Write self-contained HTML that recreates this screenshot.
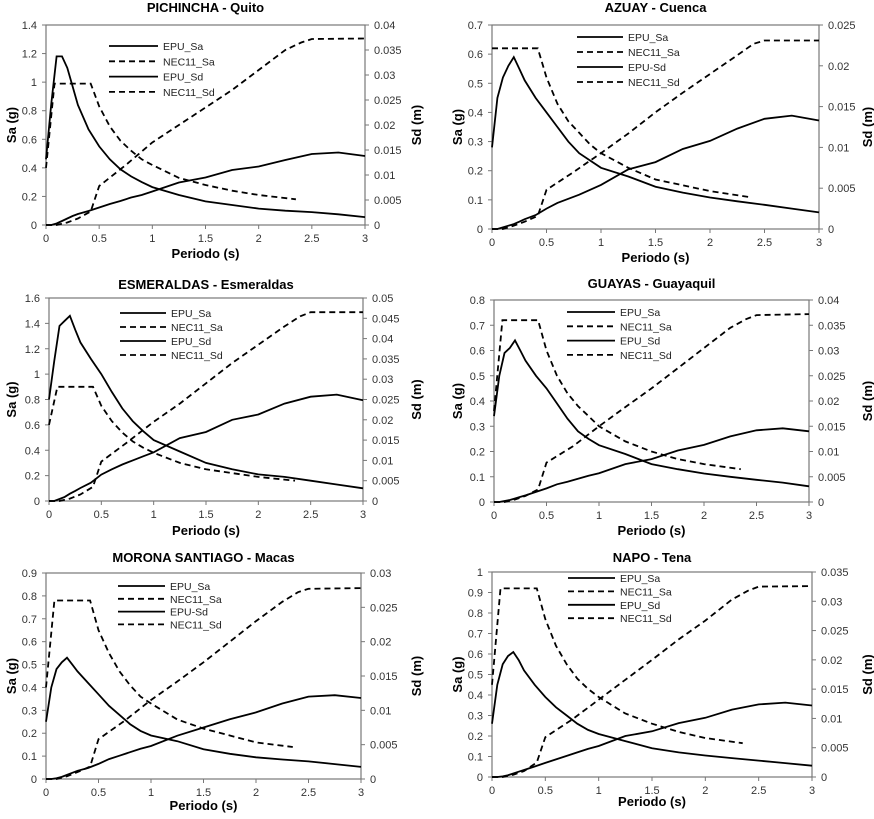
<!DOCTYPE html>
<html><head><meta charset="utf-8"><style>
html,body{margin:0;padding:0;background:#fff;}
svg{display:block;font-family:"Liberation Sans",sans-serif;}
</style></head><body>
<svg id="fig" width="874" height="819" viewBox="0 0 874 819" xmlns="http://www.w3.org/2000/svg"></svg>
<script>
const T_EPU=[0,0.05,0.1,0.15,0.2,0.25,0.3,0.4,0.5,0.6,0.7,0.8,0.9,1,1.25,1.5,1.75,2,2.25,2.5,2.75,3];
const T_NECSA=[0,0.08,0.42,0.5,0.6,0.7,0.8,0.9,1,1.25,1.5,1.75,2,2.35];
const T_NECSD=[0,0.1,0.2,0.3,0.42,0.5,0.75,1,1.25,1.5,1.75,2,2.25,2.4,2.5,3];
const titles=["PICHINCHA - Quito","AZUAY - Cuenca","ESMERALDAS - Esmeraldas","GUAYAS - Guayaquil","MORONA SANTIAGO - Macas","NAPO - Tena"];
const saMax=[1.4,0.7,1.6,0.8,0.9,1.0];
const saStep=[0.2,0.1,0.2,0.1,0.1,0.1];
const sdMax=[0.04,0.025,0.05,0.04,0.03,0.035];
const xTicks=[0,0.5,1,1.5,2,2.5,3];
const epuSa=[
[0.46,0.85,1.18,1.18,1.1,0.97,0.84,0.67,0.55,0.46,0.39,0.34,0.3,0.265,0.21,0.165,0.14,0.115,0.1,0.09,0.075,0.055],
[0.28,0.45,0.52,0.56,0.59,0.55,0.51,0.45,0.4,0.35,0.3,0.26,0.235,0.21,0.18,0.145,0.125,0.108,0.095,0.083,0.07,0.057],
[0.8,1.1,1.38,1.42,1.46,1.35,1.25,1.12,1.0,0.86,0.73,0.63,0.55,0.48,0.39,0.3,0.25,0.21,0.19,0.16,0.13,0.1],
[0.34,0.5,0.59,0.61,0.64,0.6,0.56,0.5,0.45,0.39,0.33,0.28,0.25,0.225,0.19,0.15,0.13,0.113,0.1,0.088,0.077,0.062],
[0.25,0.4,0.48,0.51,0.53,0.5,0.47,0.42,0.37,0.32,0.28,0.24,0.21,0.19,0.165,0.13,0.11,0.095,0.085,0.077,0.065,0.053],
[0.26,0.45,0.55,0.59,0.61,0.57,0.52,0.45,0.39,0.34,0.3,0.26,0.23,0.21,0.175,0.14,0.12,0.105,0.092,0.08,0.068,0.055]];
const epuSd=[
[0,0,0.0003,0.0008,0.0013,0.0018,0.0022,0.0028,0.0035,0.0042,0.0048,0.0055,0.006,0.0067,0.0085,0.0095,0.011,0.0117,0.013,0.0142,0.0145,0.0138],
[0,0,0.0002,0.0004,0.0006,0.0009,0.0012,0.0017,0.0025,0.0032,0.0037,0.0042,0.0048,0.0054,0.0073,0.0082,0.0098,0.0108,0.0123,0.0135,0.0139,0.0133],
[0,0,0.0005,0.001,0.0018,0.0025,0.0032,0.0045,0.0065,0.0078,0.009,0.01,0.011,0.012,0.0155,0.017,0.02,0.0213,0.024,0.0257,0.0262,0.0248],
[0,0,0.0002,0.0004,0.0007,0.001,0.0013,0.002,0.0027,0.0035,0.004,0.0046,0.0052,0.0057,0.0075,0.0085,0.0102,0.0113,0.013,0.0142,0.0146,0.014],
[0,0,0.0001,0.0003,0.0006,0.0009,0.0012,0.0016,0.0022,0.0029,0.0034,0.0039,0.0044,0.0048,0.0063,0.0075,0.0087,0.0097,0.011,0.012,0.0122,0.0118],
[0,0,0.0001,0.0003,0.0006,0.0009,0.0012,0.0018,0.0024,0.003,0.0036,0.0042,0.0048,0.0053,0.007,0.0078,0.0092,0.0101,0.0115,0.0124,0.0127,0.0122]];
const necSa=[
[0.4,0.99,0.99,0.83,0.69,0.59,0.52,0.46,0.42,0.33,0.28,0.24,0.21,0.18],
[0.62,0.62,0.62,0.52,0.43,0.37,0.33,0.29,0.26,0.21,0.17,0.15,0.13,0.11],
[0.6,0.9,0.9,0.75,0.63,0.54,0.47,0.42,0.38,0.3,0.25,0.22,0.19,0.16],
[0.36,0.72,0.72,0.6,0.5,0.43,0.38,0.34,0.3,0.24,0.2,0.17,0.15,0.13],
[0.4,0.78,0.78,0.65,0.55,0.47,0.41,0.36,0.33,0.26,0.22,0.19,0.16,0.14],
[0.45,0.92,0.92,0.77,0.64,0.55,0.48,0.43,0.39,0.31,0.26,0.22,0.19,0.165]];
const necSd=[
[0,0,0.0005,0.0013,0.0027,0.0078,0.012,0.0165,0.02,0.0235,0.027,0.031,0.035,0.0365,0.0372,0.0373],
[0,0,0.0004,0.0009,0.0016,0.0048,0.007,0.0093,0.0117,0.0143,0.0167,0.019,0.0213,0.0227,0.0231,0.0231],
[0,0,0.0006,0.0016,0.0035,0.0097,0.0145,0.0195,0.024,0.029,0.034,0.0385,0.043,0.0455,0.0465,0.0465],
[0,0,0.0005,0.0012,0.0025,0.0078,0.011,0.015,0.0188,0.0225,0.0265,0.0305,0.0345,0.0362,0.037,0.0372],
[0,0,0.0004,0.001,0.0018,0.0058,0.0085,0.0115,0.0142,0.017,0.02,0.023,0.0258,0.0272,0.0277,0.0278],
[0,0,0.0004,0.001,0.0025,0.0068,0.0098,0.0132,0.0166,0.02,0.0235,0.0267,0.0303,0.0318,0.0325,0.0326]];
const legendLabels=[
["EPU_Sa","NEC11_Sa","EPU_Sd","NEC11_Sd"],["EPU_Sa","NEC11_Sa","EPU-Sd","NEC11_Sd"],
["EPU_Sa","NEC11_Sa","EPU_Sd","NEC11_Sd"],["EPU_Sa","NEC11_Sa","EPU_Sd","NEC11_Sd"],
["EPU_Sa","NEC11_Sa","EPU-Sd","NEC11_Sd"],["EPU_Sa","NEC11_Sa","EPU_Sd","NEC11_Sd"]];
const L=[
{x0:46,x1:365,yt:25,yb:225,tY:12,xl:258,syl:12,sdl:417,lg:[109,158,46,15.3]},
{x0:492,x1:819,yt:25,yb:229,tY:12,xl:262,syl:458,sdl:868,lg:[577,623,37,15]},
{x0:49,x1:363,yt:298,yb:501,tY:289,xl:535,syl:12,sdl:417,lg:[120,166,313,14]},
{x0:494,x1:809,yt:300,yb:502,tY:288,xl:535,syl:458,sdl:868,lg:[567,615,312,14.3]},
{x0:46,x1:361,yt:573,yb:779,tY:562,xl:810,syl:12,sdl:417,lg:[118,165,586,12.8]},
{x0:492,x1:812,yt:572,yb:777,tY:562,xl:806,syl:458,sdl:868,lg:[568,615,578,13.4]}];
const NS="http://www.w3.org/2000/svg";
const svg=document.getElementById('fig');
function mk(tag,attrs,parent,txt){const e=document.createElementNS(NS,tag);for(const k in attrs)e.setAttribute(k,attrs[k]);if(txt!==undefined)e.textContent=txt;(parent||svg).appendChild(e);return e;}
function fmt(v){return String(Math.round(v*10000)/10000);}
for(let p=0;p<6;p++){
 const c=L[p];
 const g=mk('g',{});
 
 
 const sx=t=>c.x0+(t/3)*(c.x1-c.x0);
 const sy=v=>c.yb-(v/saMax[p])*(c.yb-c.yt);
 const sy2=v=>c.yb-(v/sdMax[p])*(c.yb-c.yt);
 const tt=mk('text',{x:(c.x0+c.x1)/2,y:c.tY,'text-anchor':'middle','font-size':13,'font-weight':'bold'},g,titles[p]);
 
 
 const fr=mk('rect',{x:c.x0,y:c.yt,width:c.x1-c.x0,height:c.yb-c.yt,fill:'none',stroke:'#777','stroke-width':1.2},g);
 
 
 const nL=Math.round(saMax[p]/saStep[p]);
 for(let i=0;i<=nL;i++){const v=i*saStep[p];const y=sy(v);
  mk('line',{x1:c.x0-4,x2:c.x0,y1:y,y2:y,stroke:'#777'},g);
  const t=mk('text',{x:c.x0-9,y:y+4,'text-anchor':'end','font-size':11,fill:'#333'},g,fmt(v));
  
  }
 const nR=Math.round(sdMax[p]/0.005);
 for(let i=0;i<=nR;i++){const v=i*0.005;const y=sy2(v);
  mk('line',{x1:c.x1,x2:c.x1+4,y1:y,y2:y,stroke:'#777'},g);
  const t=mk('text',{x:c.x1+9,y:y+4,'text-anchor':'start','font-size':11,fill:'#333'},g,fmt(v));
  
  }
 for(const v of xTicks){const x=sx(v);
  mk('line',{x1:x,x2:x,y1:c.yb,y2:c.yb+4,stroke:'#777'},g);
  const t=mk('text',{x:x,y:c.yb+17,'text-anchor':'middle','font-size':11,fill:'#333'},g,fmt(v));
  
  }
 const xl=mk('text',{x:(c.x0+c.x1)/2,y:c.xl,'text-anchor':'middle','font-size':13,'font-weight':'bold'},g,'Periodo (s)');
 
 
 const my=(c.yt+c.yb)/2;
 const yl=mk('text',{x:c.syl,y:my,'text-anchor':'middle','font-size':13,'font-weight':'bold',transform:`rotate(-90 ${c.syl} ${my})`,dy:4},g,'Sa (g)');
 
 
 const yr=mk('text',{x:c.sdl,y:my,'text-anchor':'middle','font-size':13,'font-weight':'bold',transform:`rotate(-90 ${c.sdl} ${my})`,dy:4},g,'Sd (m)');
 
 
 const line=(xs,ys,f,dash,name)=>{const d=xs.map((t,i)=>(i?'L':'M')+sx(t).toFixed(1)+','+f(ys[i]).toFixed(1)).join('');
  const e=mk('path',{d:d,fill:'none',stroke:'#000','stroke-width':1.8,'stroke-dasharray':dash?'6,4':'none'},g);
  
  };
 line(T_EPU,epuSa[p],sy,false,'epu-sa-line');
 line(T_NECSA,necSa[p],sy,true,'nec11-sa-line');
 line(T_EPU,epuSd[p],sy2,false,'epu-sd-line');
 line(T_NECSD,necSd[p],sy2,true,'nec11-sd-line');
 const [lx0,lx1,ly,ld]=c.lg;
 for(let i=0;i<4;i++){const y=ly+i*ld;
  const le=mk('g',{},g);
  
  
  mk('line',{x1:lx0,x2:lx1,y1:y,y2:y,stroke:'#000','stroke-width':1.8,'stroke-dasharray':(i%2)?'6,4':'none'},le);
  mk('text',{x:lx1+5,y:y+4,'font-size':10.5,fill:'#222'},le,legendLabels[p][i]);}
}
</script>
</body></html>
